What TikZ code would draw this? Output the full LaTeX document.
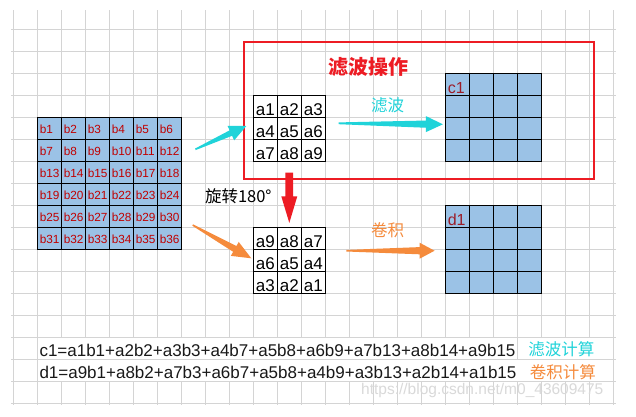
\documentclass[tikz,border=0pt]{standalone}
\usepackage{fontspec}
\setmainfont{Liberation Sans}
\newfontfamily\cjk{Noto Sans CJK SC}
\usepackage{tikz}
\usetikzlibrary{positioning,calc}
\definecolor{gridGray}{HTML}{D4D4D4}
\definecolor{cellBlue}{HTML}{9BC2E6}
\definecolor{cellRed}{HTML}{C00000}
\definecolor{darkRed}{HTML}{9C1C28}
\definecolor{palCyan}{HTML}{20D3D9}
\definecolor{palOrange}{HTML}{F58B3C}
\definecolor{palRed}{HTML}{ED1C24}

\newcommand{\fatarrow}[6]{%
  \coordinate (hb) at ($(#2)!#6!(#1)$);
  \fill[#3] ($(#1)!#4!90:(#2)$) -- ($(hb)!#5!90:(#2)$) -- ($(hb)!8pt!90:(#2)$) -- (#2)
    -- ($(hb)!8pt!-90:(#2)$) -- ($(hb)!#5!-90:(#2)$) -- ($(#1)!#4!-90:(#2)$) -- cycle;
}

\begin{document}
\begin{tikzpicture}[
  x=1pt, y=-1pt,
  font=\fontsize{17}{20}\selectfont,
  gridline/.style={draw=gridGray, line width=0.9pt},
  bcell/.style={rectangle, draw=black, line width=0.8pt, fill=cellBlue,
    minimum height=22pt, text width=19pt, inner xsep=2.5pt, inner ysep=0pt,
    align=left, text=cellRed, font=\fontsize{11.8}{12}\selectfont,
    text height=10.4pt, text depth=0pt},
  acell/.style={rectangle, draw=black, line width=0.8pt, fill=white,
    minimum height=22pt, text width=19pt, inner xsep=2.5pt, inner ysep=0pt,
    align=left, font=\fontsize{17}{18}\selectfont,
    text height=17.6pt, text depth=0pt},
  ccell/.style={rectangle, draw=black, line width=0.8pt, fill=cellBlue,
    minimum height=22pt, text width=19pt, inner xsep=2.5pt, inner ysep=0pt,
    align=left, text=darkRed, font=\fontsize{16}{18}\selectfont,
    text height=18.2pt, text depth=0pt},
  frame/.style={rectangle, draw=palRed, line width=2.2pt,
    minimum width=350.3pt, minimum height=137pt},
  lbl/.style={inner sep=0pt, font=\cjk\fontsize{16.5}{18}\selectfont},
  formula/.style={anchor=west, inner sep=0pt, text=black!90,
    font=\fontsize{17}{20}\selectfont}
]
\useasboundingbox (0,0) rectangle (636,416);
\fill[white] (0,0) rectangle (636,416);

\foreach \k in {0,...,25}
  \draw[gridline] (13.3+24*\k,10) -- (13.3+24*\k,405);
\foreach \k in {0,...,17}
  \draw[gridline] (11,29.3+22*\k) -- (616,29.3+22*\k);
\fill[white] (38,338) rectangle (516.8,358.6);
\fill[white] (518,338) rectangle (612.8,358.6);
\fill[white] (38,360) rectangle (612.8,380.6);

\node[frame] (filterbox) at (419.15,110.5) {};
\node[lbl, text=palRed, font=\cjk\bfseries\fontsize{20}{22}\selectfont] (title) at (368,66.7) {滤波操作};

\foreach \r in {1,...,6}
  \foreach \c in {1,...,6} {
    \pgfmathtruncatemacro{\n}{6*(\r-1)+\c}
    \node[bcell] (b-\r-\c) at (25.3+24*\c,106.3+22*\r) {b\n};
  }

\foreach \r in {1,...,3}
  \foreach \c in {1,...,3} {
    \pgfmathtruncatemacro{\n}{3*(\r-1)+\c}
    \pgfmathtruncatemacro{\m}{10-\n}
    \node[acell] (a-\r-\c) at (241.3+24*\c,84.3+22*\r) {a\n};
    \node[acell] (r-\r-\c) at (241.3+24*\c,216.3+22*\r) {a\m};
  }

\foreach \r in {1,...,4}
  \foreach \c in {1,...,4} {
    \node[ccell] (c-\r-\c) at (433.3+24*\c,62.3+22*\r) {};
    \node[ccell] (d-\r-\c) at (433.3+24*\c,194.3+22*\r) {};
  }
\node[ccell, fill=none, draw=none] (c1) at (c-1-1) {c1};
\node[ccell, fill=none, draw=none] (d1) at (d-1-1) {d1};

\coordinate (cyA) at ($(b-2-6.east)+(13.7,-1)$);
\coordinate (cyB) at ($(a-2-1.west)+(-6.6,-2.3)$);
\coordinate (cyC) at ($(a-2-3.east)+(13,-5)$);
\coordinate (cyD) at ($(c-3-1.west)+(-2,-4)$);
\coordinate (orA) at ($(b-5-6.east)+(11,8.7)$);
\coordinate (orB) at ($(r-2-1.west)+(-1.6,-2)$);
\coordinate (orC) at ($(r-2-3.east)+(20.7,-9.6)$);
\coordinate (orD) at ($(d-3-1.west)+(-10.3,-9.6)$);
\coordinate (rdA) at ($(a-3-2.south)+(0,11)$);
\coordinate (rdB) at ($(r-1-2.north)+(0,-4)$);

\fatarrow{cyA}{cyB}{palCyan}{0.8pt}{3pt}{17pt}
\fatarrow{cyC}{cyD}{palCyan}{0.9pt}{3.6pt}{17pt}
\fatarrow{orA}{orB}{palOrange}{0.8pt}{3.3pt}{19pt}
\fatarrow{orC}{orD}{palOrange}{0.8pt}{3.6pt}{15pt}
\fatarrow{rdA}{rdB}{palRed}{3.85pt}{3.85pt}{26.6pt}

\node[lbl, text=palCyan] (lblfilter) at (387.5,105.3) {滤波};
\node[lbl, text=palOrange] (lblconv) at (387.5,230) {卷积};
\node[lbl, text=black] (lblrot) at (238.3,196.3) {旋转180°};

\node[formula] (eqc) at (39.3,350.3) {c1=a1b1+a2b2+a3b3+a4b7+a5b8+a6b9+a7b13+a8b14+a9b15};
\node[formula] (eqd) at (39.3,372.3) {d1=a9b1+a8b2+a7b3+a6b7+a5b8+a4b9+a3b13+a2b14+a1b15};
\node[lbl, text=palCyan] (calcfilter) at (561.3,349) {滤波计算};
\node[lbl, text=palOrange] (calcconv) at (562.8,371.7) {卷积计算};

\node[anchor=west, inner sep=0pt, text=black!15, font=\fontsize{15.5}{17}\selectfont,
  text height=11pt, text depth=0pt] (mark) at (361,389) {https://blog.csdn.net/m0\_43609475};
\end{tikzpicture}
\end{document}
